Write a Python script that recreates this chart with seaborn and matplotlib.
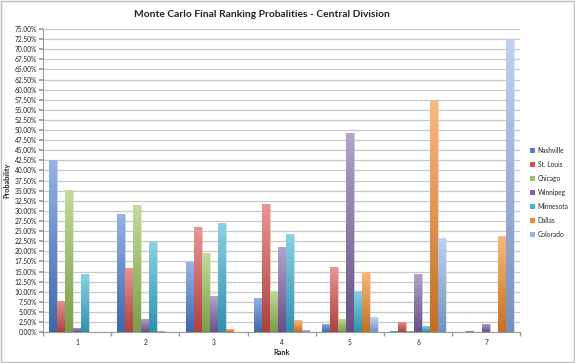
import numpy as np
import pandas as pd
import matplotlib
matplotlib.use("Agg")
import matplotlib.pyplot as plt
import matplotlib.colors as mcolors
from matplotlib.patches import Patch
from matplotlib.ticker import MultipleLocator, FuncFormatter
import seaborn as sns

ranks = ["1", "2", "3", "4", "5", "6", "7"]
teams = ["Nashville", "St. Louis", "Chicago", "Winnipeg", "Minnesota", "Dallas", "Colorado"]
nashville = [42.6, 29.2, 17.3, 8.5, 2.1, 0.2, 0.0]
st_louis = [7.8, 15.9, 25.9, 31.6, 16.0, 2.5, 0.2]
chicago = [35.2, 31.4, 19.6, 10.2, 3.3, 0.3, 0.0]
winnipeg = [1.0, 3.3, 8.9, 21.0, 49.2, 14.3, 2.1]
minnesota = [14.3, 22.4, 27.0, 24.3, 10.3, 1.6, 0.0]
dallas = [0.05, 0.2, 0.7, 2.9, 15.0, 57.3, 23.8]
colorado = [0.0, 0.0, 0.1, 0.5, 3.7, 23.3, 72.4]
series = [nashville, st_louis, chicago, winnipeg, minnesota, dallas, colorado]

palette = ["#4F81D4", "#D9504D", "#9BC45A", "#8064A8", "#3FB4D6", "#F58A2C", "#94B4EC"]

rows = []
for team, vals in zip(teams, series):
    for r, v in zip(ranks, vals):
        rows.append({"Rank": r, "Team": team, "Probability": v / 100.0})
df = pd.DataFrame(rows)

sns.set_theme(style="white")
plt.rcParams["font.family"] = ["Lato", "DejaVu Sans"]

fig = plt.figure(figsize=(5.75, 3.63), dpi=100)
ax = fig.add_axes([0.075, 0.085, 0.83, 0.835])

sns.barplot(data=df, x="Rank", y="Probability", hue="Team", order=ranks,
            hue_order=teams, palette=palette, width=0.82, gap=0.0,
            saturation=1, errorbar=None, ax=ax, legend=False, zorder=3)

# gradient fill on bars (Excel style)
for cont, col in zip(ax.containers, palette):
    base = np.array(mcolors.to_rgb(col))
    top = base + (1 - base) * 0.4
    bot = base * 0.8
    grad = np.linspace(0, 1, 64)[:, None]
    img = (top[None, :] * (1 - grad) + bot[None, :] * grad)[:, None, :]
    for p in cont.patches:
        x0, y0 = p.get_x(), p.get_y()
        w, h = p.get_width(), p.get_height()
        if h <= 0:
            continue
        p.set_edgecolor((1, 1, 1, 0.6))
        p.set_linewidth(0.4)
        im = ax.imshow(img, extent=[x0, x0 + w, y0, y0 + h], aspect="auto",
                       origin="upper", zorder=3.5, interpolation="bilinear")
        im.set_clip_path(p)

ax.set_xlim(-0.5, 6.5)
ax.set_ylim(0, 0.75)
ax.yaxis.set_major_locator(MultipleLocator(0.025))
ax.yaxis.set_major_formatter(FuncFormatter(lambda v, _: f"{v*100:.2f}%"))
ax.yaxis.grid(True, color="#C8C8C8", linewidth=0.9, zorder=0)
ax.set_axisbelow(True)

for s in ["top", "right"]:
    ax.spines[s].set_visible(False)
for s in ["left", "bottom"]:
    ax.spines[s].set_color("#9A9A9A")
    ax.spines[s].set_linewidth(0.8)

ax.tick_params(axis="y", labelsize=4.8, length=3, color="#9A9A9A", left=True,
               pad=1.5, labelcolor="#222222")
ax.tick_params(axis="x", labelsize=4.8, length=0, pad=5, labelcolor="#222222")
ax.set_xticks(np.arange(-0.5, 7.0, 1.0), minor=True)
ax.tick_params(axis="x", which="minor", length=3, color="#9A9A9A", bottom=True)

ax.set_xlabel("Rank", fontsize=5.2, fontweight="bold", labelpad=2)
ax.set_ylabel("Probability", fontsize=5.2, fontweight="bold", labelpad=3)

fig.suptitle("Monte Carlo Final Ranking Probalities - Central Division",
             fontsize=7.4, fontweight="bold", y=0.972, x=0.455, color="#222222")

handles = [Patch(facecolor=c, edgecolor="none", label=t) for t, c in zip(teams, palette)]
leg = ax.legend(handles=handles, loc="center left", bbox_to_anchor=(1.015, 0.46),
                frameon=False, fontsize=4.8, handlelength=0.75, handleheight=0.75,
                labelspacing=1.05, handletextpad=0.4, borderaxespad=0)

fig.patches.append(plt.Rectangle((0.002, 0.003), 0.996, 0.994, transform=fig.transFigure,
                                 fill=False, edgecolor="#BDBDBD", linewidth=1.0))

fig.savefig("out.png", dpi=100)
